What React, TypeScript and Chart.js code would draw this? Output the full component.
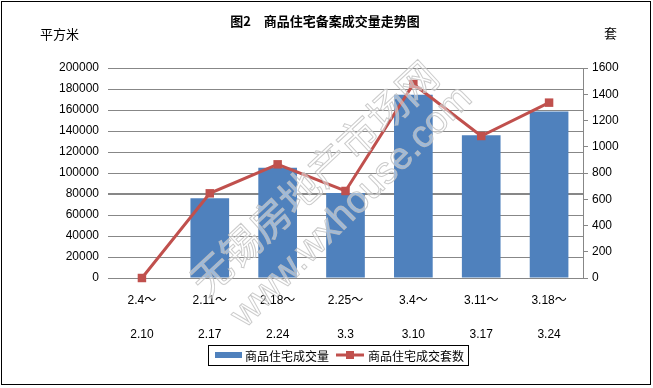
import React, { useEffect, useRef } from 'react';
import { Chart, registerables } from 'chart.js';

Chart.register(...registerables);

const weekStarts = ['2.4～', '2.11～', '2.18～', '2.25～', '3.4～', '3.11～', '3.18～'];
const weekEnds = ['2.10', '2.17', '2.24', '3.3', '3.10', '3.17', '3.24'];
const areaValues = [0, 76000, 105000, 81000, 174500, 136000, 158500];
const unitValues = [0, 645, 866, 663, 1478, 1082, 1336];
const areaAxisMax = 200000;
const areaAxisStep = 20000;
const unitAxisMax = 1600;
const unitAxisStep = 200;

const chartTitle = '图2　商品住宅备案成交量走势图';
const leftUnit = '平方米';
const rightUnit = '套';
const areaLabel = '商品住宅成交量';
const unitLabel = '商品住宅成交套数';
const watermarkCn = '无锡房地产市场网';
const watermarkUrl = 'www.wxhouse.com';

const BAR_COLOR = '#4F81BD';
const LINE_COLOR = '#C0504D';
const GRID_COLOR = '#878787';
const CJK = '"Noto Sans CJK SC", "Liberation Sans", sans-serif';
const NUM = '"Liberation Sans", "Noto Sans CJK SC", sans-serif';

const decorPlugin = {
  id: 'decor',
  afterDraw(chart: any) {
    const ctx = chart.ctx as CanvasRenderingContext2D;
    ctx.save();
    // watermark
    ctx.lineWidth = 1;
    ctx.strokeStyle = 'rgba(190,190,190,0.8)';
    ctx.fillStyle = 'rgba(255,255,255,0.45)';
    ctx.textAlign = 'center';
    ctx.textBaseline = 'middle';
    ctx.save();
    ctx.translate(314, 178);
    ctx.rotate(-43 * Math.PI / 180);
    ctx.font = `40px ${CJK}`;
    ctx.fillText(watermarkCn, 0, 0);
    ctx.strokeText(watermarkCn, 0, 0);
    ctx.restore();
    ctx.save();
    ctx.translate(352, 207);
    ctx.rotate(-45 * Math.PI / 180);
    ctx.font = `38px ${NUM}`;
    ctx.fillText(watermarkUrl, 0, 0);
    ctx.strokeText(watermarkUrl, 0, 0);
    ctx.restore();

    // title and unit labels
    ctx.fillStyle = '#000';
    ctx.textBaseline = 'middle';
    ctx.textAlign = 'center';
    ctx.font = `bold 13px ${CJK}`;
    ctx.fillText(chartTitle, 325, 21);
    ctx.textAlign = 'left';
    ctx.font = `13px ${CJK}`;
    ctx.fillText(leftUnit, 40, 34);
    ctx.fillText(rightUnit, 604, 33);

    // legend
    ctx.strokeStyle = '#000';
    ctx.lineWidth = 1;
    ctx.strokeRect(208.5, 345.5, 260, 20);
    ctx.fillStyle = BAR_COLOR;
    ctx.fillRect(215, 352, 27, 6);
    ctx.fillStyle = '#000';
    ctx.font = `12px ${CJK}`;
    ctx.fillText(areaLabel, 245, 356);
    ctx.strokeStyle = LINE_COLOR;
    ctx.lineWidth = 3;
    ctx.beginPath();
    ctx.moveTo(336, 355);
    ctx.lineTo(364, 355);
    ctx.stroke();
    ctx.fillStyle = LINE_COLOR;
    ctx.fillRect(346, 351, 8, 8);
    ctx.fillStyle = '#000';
    ctx.fillText(unitLabel, 368, 356);

    // outer frame
    ctx.strokeStyle = '#000';
    ctx.lineWidth = 1;
    ctx.strokeRect(1.5, 1.5, 649, 383);
    ctx.restore();
  },
};

export default function App() {
  const canvasRef = useRef<HTMLCanvasElement | null>(null);

  useEffect(() => {
    document.body.style.margin = '0';
    const canvas = canvasRef.current;
    if (!canvas) return;
    const chart = new Chart(canvas, {
      data: {
        labels: weekStarts.map((s, i) => [s, weekEnds[i]]),
        datasets: [
          {
            type: 'line',
            label: unitLabel,
            data: unitValues,
            yAxisID: 'y1',
            borderColor: LINE_COLOR,
            backgroundColor: LINE_COLOR,
            borderWidth: 3,
            pointStyle: 'rect',
            pointRadius: 6,
            pointBorderWidth: 0,
            tension: 0,
            clip: false,
            order: 0,
          } as any,
          {
            type: 'bar',
            label: areaLabel,
            data: areaValues,
            yAxisID: 'y',
            backgroundColor: BAR_COLOR,
            categoryPercentage: 1,
            barPercentage: 0.57,
            order: 1,
          } as any,
        ],
      },
      options: {
        responsive: false,
        animation: false,
        layout: { padding: { top: 68, left: 0, right: 0, bottom: 0 } },
        plugins: {
          legend: { display: false },
          title: { display: false },
          tooltip: { enabled: false },
        },
        scales: {
          x: {
            grid: { display: false },
            border: { display: false },
            ticks: {
              color: '#000',
              font: { family: NUM, size: 12, lineHeight: 2.83 },
              padding: -2,
              maxRotation: 0,
              autoSkip: false,
            },
            afterFit: (s: any) => { s.height = 110; },
          },
          y: {
            position: 'left',
            min: 0,
            max: areaAxisMax,
            grid: {
              color: GRID_COLOR,
              drawTicks: false,
              lineWidth: (c: any) => (c.tick && c.tick.value === 80000 ? 2 : 1),
            },
            border: { display: false },
            ticks: {
              stepSize: areaAxisStep,
              color: '#000',
              font: { family: NUM, size: 12 },
              padding: 9,
              callback: (v: any) => String(v),
            },
            afterFit: (s: any) => { s.width = 108; },
          },
          y1: {
            position: 'right',
            min: 0,
            max: unitAxisMax,
            grid: { drawOnChartArea: false, color: GRID_COLOR, tickLength: 5 },
            border: { display: true, color: GRID_COLOR },
            ticks: {
              stepSize: unitAxisStep,
              color: '#000',
              font: { family: NUM, size: 12 },
              padding: 4,
              callback: (v: any) => String(v),
            },
            afterFit: (s: any) => { s.width = 70; },
          },
        },
      },
      plugins: [decorPlugin],
    } as any);
    return () => chart.destroy();
  }, []);

  return (
    <div style={{ position: 'absolute', left: 0, top: 0, width: 653, height: 388, background: '#fff' }}>
      <canvas ref={canvasRef} width={653} height={388} />
    </div>
  );
}
